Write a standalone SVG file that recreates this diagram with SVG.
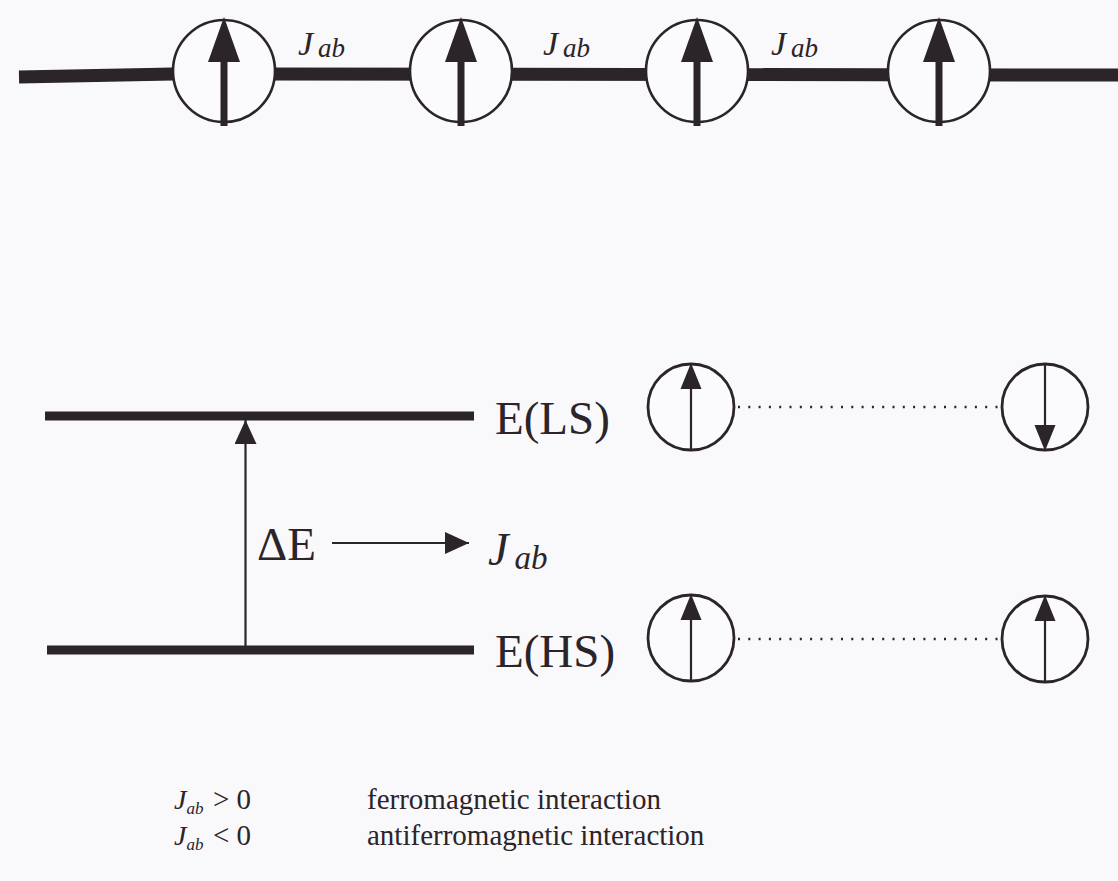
<svg xmlns="http://www.w3.org/2000/svg" xmlns:xlink="http://www.w3.org/1999/xlink" width="1118" height="881" viewBox="0 0 1118 881">
<style>
.ink{stroke:#2b2429;fill:none}
.fill{fill:#2b2429}
.ring{stroke:#2b2429;fill:#fbfafc}
.t{font-family:"Liberation Serif","Times New Roman",serif;fill:#2b2429}
.it{font-style:italic}
</style>
<defs>
<g id="bigSpin">
<circle class="ring" r="51" stroke-width="2.6"/>
<line class="ink" x1="0" y1="55" x2="0" y2="-12" stroke-width="7"/>
<polygon class="fill" points="-16,-9 16,-9 0,-54"/>
</g>
<g id="smallSpin">
<circle class="ring" r="43" stroke-width="2.8"/>
<line class="ink" x1="0" y1="43" x2="0" y2="-20" stroke-width="2.2"/>
<polygon class="fill" points="-10.5,-18 10.5,-18 0,-44"/>
</g>
<marker id="headV" viewBox="0 0 24 22" refX="24" refY="11" markerWidth="24" markerHeight="22" markerUnits="userSpaceOnUse" orient="auto">
<polygon points="0,0 24,11 0,22" fill="#2b2429"/>
</marker>
</defs>
<rect width="1118" height="881" fill="#f9f8fa"/>

<g id="connectors">
<polyline class="ink" points="19,77 173,74 1118,75" stroke-width="13"/>
<line class="ink" x1="45" y1="416" x2="474" y2="416" stroke-width="9"/>
<line class="ink" x1="47" y1="650" x2="474" y2="650" stroke-width="9"/>
<line class="ink" x1="245.5" y1="646" x2="245.5" y2="420" stroke-width="2.2" marker-end="url(#headV)"/>
<line class="ink" x1="332" y1="543" x2="469" y2="543" stroke-width="2.2" marker-end="url(#headV)"/>
<line class="ink" x1="738" y1="407" x2="1000" y2="407" stroke-width="2.6" stroke-dasharray="2 8.3"/>
<line class="ink" x1="738" y1="639" x2="1000" y2="639" stroke-width="2.6" stroke-dasharray="2 8.3"/>
</g>

<g id="spin1"><use xlink:href="#bigSpin" transform="translate(224,71)"/></g>
<g id="spin2"><use xlink:href="#bigSpin" transform="translate(461,71)"/></g>
<g id="spin3"><use xlink:href="#bigSpin" transform="translate(697,71)"/></g>
<g id="spin4"><use xlink:href="#bigSpin" transform="translate(939,71)"/></g>

<g id="label-j1"><text class="t it" x="298" y="55" font-size="34">J<tspan font-size="27" dx="5" dy="2">ab</tspan></text></g>
<g id="label-j2"><text class="t it" x="543" y="55" font-size="34">J<tspan font-size="27" dx="5" dy="2">ab</tspan></text></g>
<g id="label-j3"><text class="t it" x="771" y="55" font-size="34">J<tspan font-size="27" dx="5" dy="2">ab</tspan></text></g>

<g id="level-ls"><text class="t" x="495" y="434" font-size="47">E(LS)</text></g>
<g id="level-hs"><text class="t" x="495" y="667" font-size="47">E(HS)</text></g>
<g id="delta-e"><text class="t" x="257" y="560" font-size="47">ΔE</text></g>
<g id="j-energy"><text class="t it" x="488" y="565" font-size="46">J<tspan font-size="33" dx="6" dy="4">ab</tspan></text></g>

<g id="ls-left"><use xlink:href="#smallSpin" transform="translate(691,407)"/></g>
<g id="ls-right"><use xlink:href="#smallSpin" transform="translate(1045,407) rotate(180)"/></g>
<g id="hs-left"><use xlink:href="#smallSpin" transform="translate(691,638)"/></g>
<g id="hs-right"><use xlink:href="#smallSpin" transform="translate(1045,639)"/></g>

<g id="legend">
<text class="t it" x="174" y="809" font-size="28">J<tspan font-size="17" dy="5">ab</tspan></text>
<text class="t" x="213" y="809" font-size="29">&gt; 0</text>
<text class="t it" x="174" y="845" font-size="28">J<tspan font-size="17" dy="5">ab</tspan></text>
<text class="t" x="213" y="845" font-size="29">&lt; 0</text>
<text class="t" x="367" y="809" font-size="29">ferromagnetic interaction</text>
<text class="t" x="367" y="845" font-size="29">antiferromagnetic interaction</text>
</g>
</svg>
